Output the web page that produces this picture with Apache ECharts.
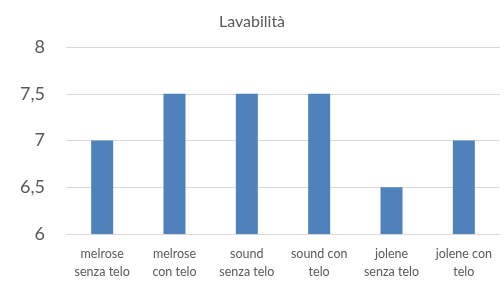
<!DOCTYPE html>
<html><head><meta charset="utf-8">
<script src="https://cdn.jsdelivr.net/npm/echarts@6/dist/echarts.min.js"></script>
<style>html,body{margin:0;padding:0;background:#fff}#c{width:504px;height:286px}</style>
</head><body><div id="c"></div>
<script>
const categories = ["melrose\nsenza telo", "melrose\ncon telo", "sound\nsenza telo", "sound con\ntelo", "jolene\nsenza telo", "jolene con\ntelo"];
const values = [7, 7.5, 7.5, 7.5, 6.5, 7];
const yTicks = [6, 6.5, 7, 7.5, 8];
const chart = echarts.init(document.getElementById('c'));
const font = "Lato, 'Open Sans', sans-serif";
chart.setOption({
  animation: false,
  title: { text: 'Lavabilità', left: 'center', top: 9, textStyle: { fontFamily: font, fontSize: 16, fontWeight: 'normal', color: '#595959' } },
  grid: { left: 66, right: 4, top: 47, bottom: 52 },
  xAxis: { type: 'category', data: categories,
    axisLine: { lineStyle: { color: '#d9d9d9' } }, axisTick: { show: false },
    axisLabel: { interval: 0, fontFamily: font, fontSize: 12.5, color: '#595959', lineHeight: 18, margin: 11 } },
  yAxis: { type: 'value', min: yTicks[0], max: yTicks[yTicks.length-1], interval: 0.5,
    axisLine: { show: false }, axisTick: { show: false },
    splitLine: { lineStyle: { color: '#d9d9d9' } },
    axisLabel: { fontFamily: font, fontSize: 18, color: '#595959', margin: 21,
      formatter: v => String(v).replace('.', ',') } },
  series: [{ type: 'bar', data: values, barWidth: 22, itemStyle: { color: '#4F81BD' } }]
});
</script></body></html>
